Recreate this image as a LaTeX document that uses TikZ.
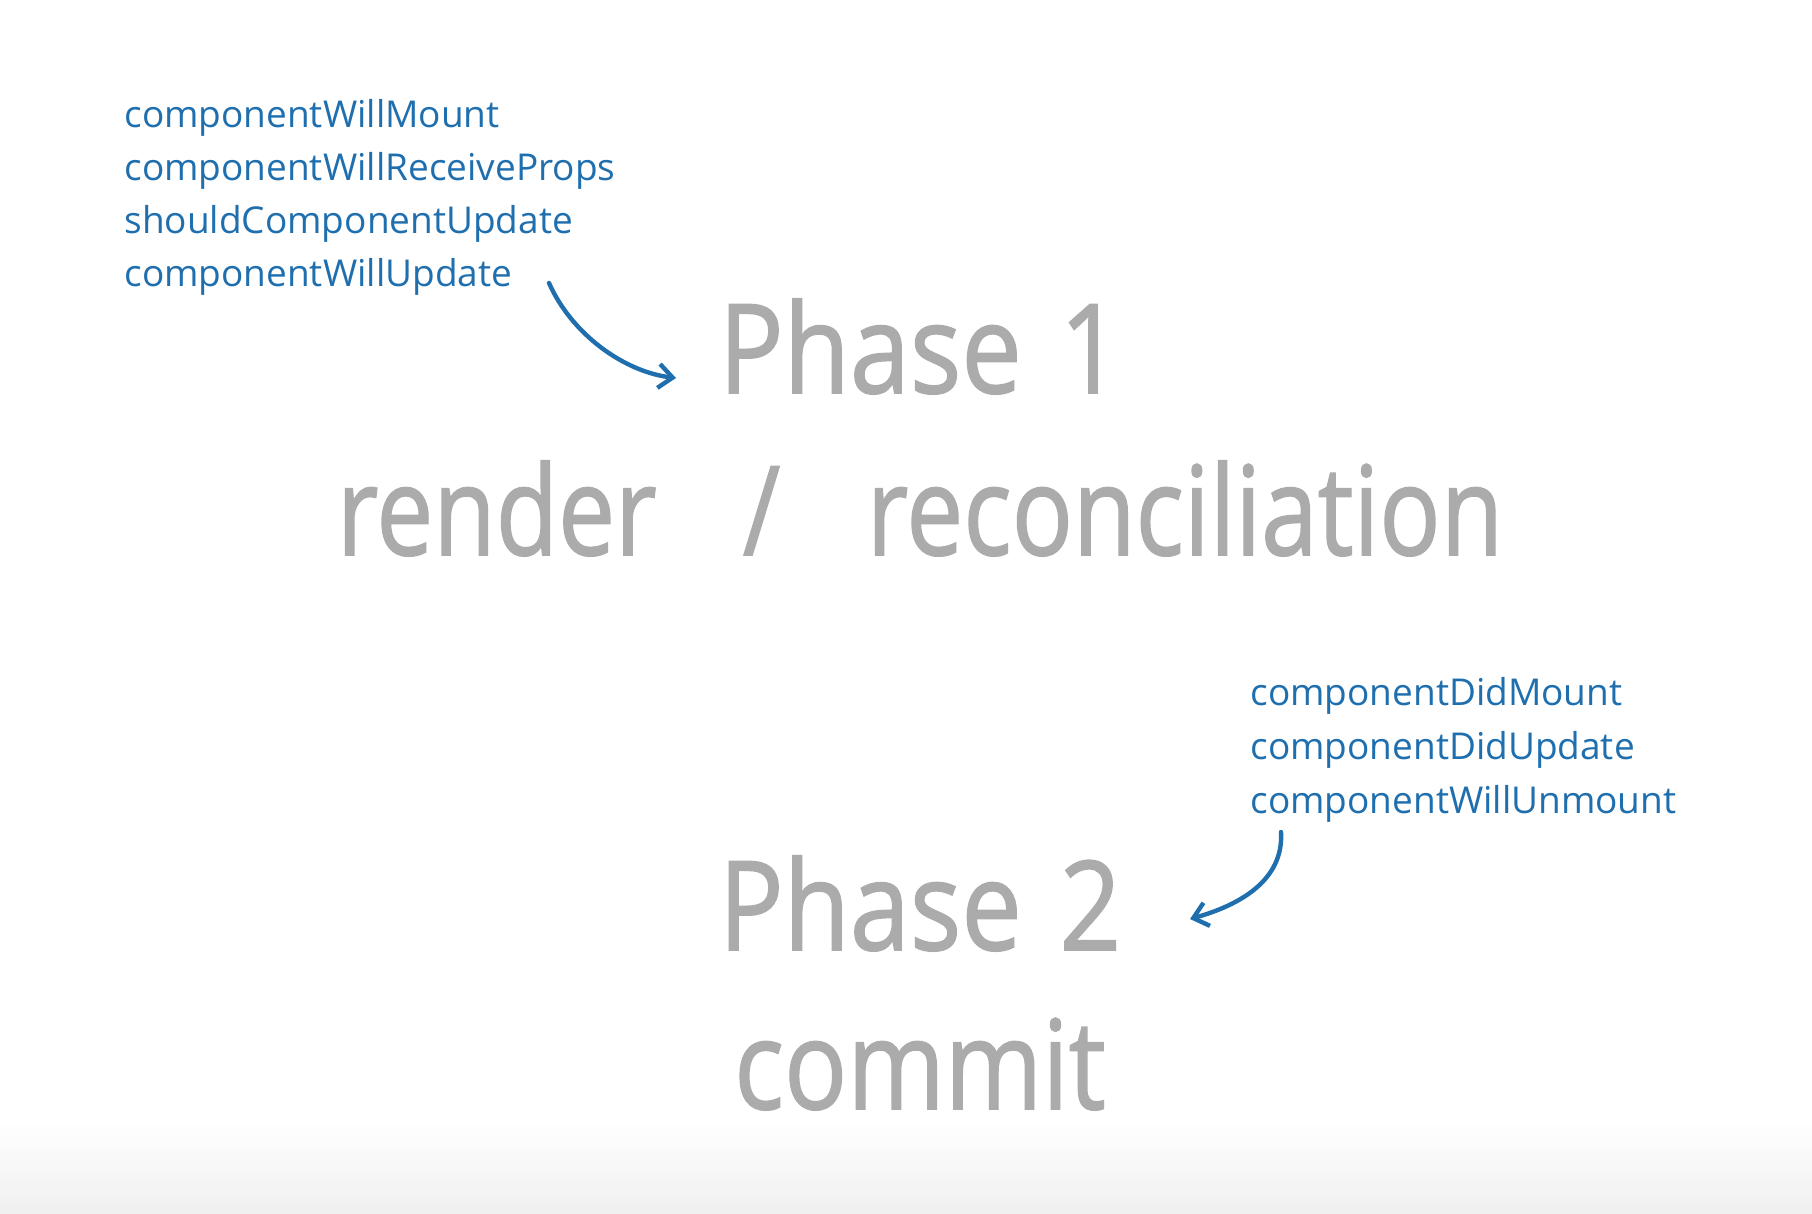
\documentclass[tikz,border=0pt]{standalone}
\usepackage{fontspec}
\setmainfont{Open Sans}
\newfontfamily\phasefont[FakeBold=1.3]{Open Sans}
\usetikzlibrary{arrows.meta}
\definecolor{hookblue}{HTML}{1F6FAF}
\definecolor{phasegray}{HTML}{ABABAB}
\tikzset{
  x=0.5pt, y=-0.5pt,
  hook/.style={anchor=base west, inner sep=0pt, text=hookblue, font=\fontsize{18.5}{22}\selectfont},
  phase/.style={anchor=base, inner sep=0pt, text=phasegray, font=\phasefont\fontsize{62}{70}\selectfont},
  hookarrow/.style={draw=hookblue, line width=2.2pt, line cap=round, -{Straight Barb[length=7pt,width=12pt,line width=2.2pt]}}
}
\begin{document}
\begin{tikzpicture}
\useasboundingbox (0,0) rectangle (1812,1214);
\fill[white] (0,0) rectangle (1812,1214);
\shade[top color=white, bottom color=black!6] (0,1120) rectangle (1812,1214);
% hooks of phase 1
\node[hook] (h1) at (124,128) {componentWillMount};
\node[hook] (h2) at (124,181) {componentWillReceiveProps};
\node[hook] (h3) at (124,234) {shouldComponentUpdate};
\node[hook] (h4) at (124,287) {componentWillUpdate};
% phase 1
\node[phase, xscale=0.87] (p1) at (920,393) {Phase\hspace{0.35em}1};
\node[phase, xscale=0.82] (r1) at (920,555) {render\hspace{0.85em}/\hspace{0.85em}reconciliation};
% hooks of phase 2
\node[hook] (k1) at (1250,705) {componentDidMount};
\node[hook] (k2) at (1250,759) {componentDidUpdate};
\node[hook] (k3) at (1250,813) {componentWillUnmount};
% phase 2
\node[phase, xscale=0.87] (p2) at (920,950) {Phase\hspace{0.35em}2};
\node[phase, xscale=0.845] (c2) at (920,1109) {commit};
% arrows
\coordinate (a1s) at (549,283);
\coordinate (a1e) at (676,378);
\draw[hookarrow] (a1s) .. controls (572,335) and (625,372) .. (a1e);
\coordinate (a2s) at (1281,832);
\coordinate (a2e) at (1190,919);
\draw[hookarrow] (a2s) .. controls (1284,880) and (1240,905) .. (a2e);
\end{tikzpicture}
\end{document}
